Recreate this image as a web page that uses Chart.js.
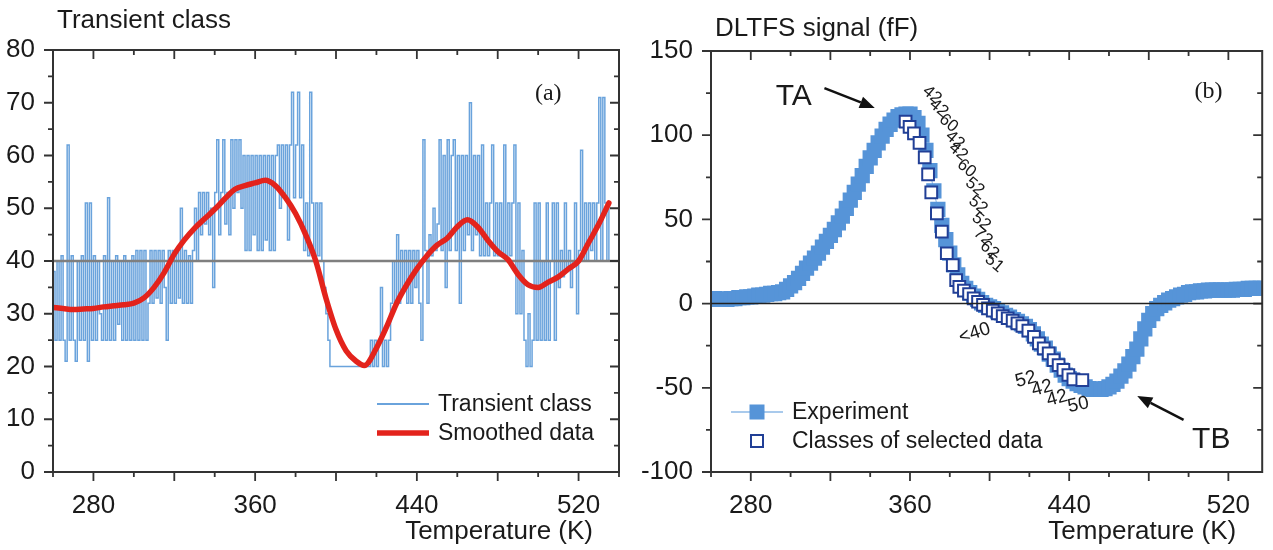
<!DOCTYPE html>
<html>
<head>
<meta charset="utf-8">
<script src="https://cdn.jsdelivr.net/npm/chart.js@4.4.1/dist/chart.umd.min.js"></script>
<style>
  body { margin: 0; background: #fff; }
  #wrap { position: relative; width: 1273px; height: 550px; }
  canvas { position: absolute; top: 0; }
</style>
</head>
<body>
<div id="wrap">
  <canvas id="panelA" width="636" height="550" style="left:0"></canvas>
  <canvas id="panelB" width="637" height="550" style="left:636px"></canvas>
</div>
<script>
const FONT = '"Liberation Sans", Arial, sans-serif';
const SERIF = '"Liberation Serif", "Times New Roman", serif';

// ---------- panel (a): transient class vs temperature ----------
const transientStartK = 260; // one reading per kelvin
const transientClass = [
  38, 25, 40, 25, 41, 25, 21, 62, 25, 41,   // 260
  25, 21, 40, 25, 41, 25, 51, 21, 51, 25,   // 270
  41, 25, 40, 30, 25, 41, 25, 52, 25, 40,   // 280
  25, 41, 28, 40, 25, 41, 25, 40, 25, 41,   // 290
  25, 42, 25, 42, 25, 42, 25, 32, 42, 32,   // 300
  42, 33, 42, 32, 42, 35, 25, 42, 32, 42,   // 310
  32, 42, 33, 50, 32, 42, 32, 41, 32, 42,   // 320
  50, 40, 53, 45, 53, 47, 53, 45, 50, 35,   // 330
  53, 63, 45, 53, 63, 47, 53, 45, 63, 50,   // 340
  63, 53, 63, 50, 60, 42, 60, 42, 60, 45,   // 350
  60, 42, 60, 42, 60, 44, 60, 42, 60, 42,   // 360
  60, 62, 50, 62, 52, 62, 44, 62, 72, 52,   // 370
  62, 72, 52, 62, 42, 51, 41, 72, 51, 41,   // 380
  51, 41, 51, 40, 35, 30, 25, 20, 20, 20,   // 390
  20, 20, 20, 20, 20, 20, 20, 20, 20, 20,   // 400
  20, 20, 20, 20, 20, 20, 20, 25, 20, 25,   // 410
  20, 25, 35, 20, 25, 20, 25, 32, 40, 32,   // 420
  45, 32, 42, 35, 42, 32, 42, 32, 42, 35,   // 430
  42, 32, 25, 63, 42, 32, 45, 41, 50, 42,   // 440
  47, 63, 42, 60, 35, 63, 42, 60, 63, 42,   // 450
  60, 32, 60, 42, 60, 45, 70, 42, 60, 45,   // 460
  60, 41, 62, 41, 51, 41, 51, 62, 41, 51,   // 470
  41, 51, 41, 62, 41, 51, 41, 51, 62, 30,   // 480
  51, 30, 42, 25, 20, 30, 20, 25, 51, 25,   // 490
  51, 25, 40, 25, 51, 25, 40, 51, 25, 51,   // 500
  35, 42, 37, 51, 38, 42, 35, 40, 51, 30,   // 510
  42, 61, 40, 51, 40, 51, 42, 51, 40, 51,   // 520
  71, 40, 71, 51, 40, 51                    // 530
];
const smoothTemps = [260, 265, 270, 275, 280, 285, 290, 295, 300, 305, 310, 315, 320, 325,
  330, 335, 340, 345, 350, 355, 360, 365, 370, 375, 380, 385, 390, 395, 400, 405, 410, 414,
  420, 425, 430, 435, 440, 445, 450, 455, 460, 465, 470, 475, 480, 485, 490, 495, 500, 505,
  510, 515, 520, 525, 530, 535];
const smoothValues = [31.2, 31.0, 30.8, 30.9, 31.0, 31.3, 31.5, 31.7, 32.0, 33.0, 35.0, 37.8, 41.3, 44.0,
  46.2, 48.0, 49.8, 51.8, 53.6, 54.3, 54.8, 55.3, 54.3, 52.0, 49.0, 45.0, 40.0, 33.0, 27.0, 23.0, 21.0, 20.2,
  23.5, 27.5, 32.0, 35.5, 38.5, 41.0, 43.0, 44.3, 46.5, 47.8, 46.5, 44.0, 41.8, 40.3, 37.5, 35.5, 35.0, 36.0,
  37.0, 38.5, 40.0, 43.5, 47.0, 51.0];
const classThreshold = 40;

// ---------- panel (b): DLTFS signal ----------
const experimentStartK = 260; // one reading every 2 K
const experimentSignal = [
  3, 3, 2.5, 2.5, 2.5, 3, 3, 3.5, 3.5, 4,            // 260-278
  4, 4.5, 5, 5, 5.5, 6, 6, 6.5, 7, 8.5,              // 280-298
  10.5, 12.5, 15, 18, 21, 24, 27, 30, 33.5, 37,      // 300-318
  40.5, 44, 48, 52, 56.5, 61.5, 66, 71, 76, 81.5,    // 320-338
  86.5, 91, 95.5, 99.5, 103.5, 106.5, 109, 111, 112, 112.5, // 340-358
  112.5, 110.5, 107, 100, 91, 79, 67, 56, 46.5, 38,  // 360-378
  30, 23, 17, 12, 9, 6.5, 4.5, 2.5, 0.5, -1,         // 380-398
  -2, -3, -4.5, -5.5, -7, -8, -9.5, -10.5, -12, -13.5,     // 400-418
  -15.5, -18, -21, -24, -26.5, -30, -33, -36.5, -39.5, -42.5, // 420-438
  -44.5, -46, -47.5, -48.5, -49.5, -50.5, -51, -51, -51, -50.5, // 440-458
  -49.5, -48, -46, -43, -40, -36, -31.5, -27, -21, -15,  // 460-478
  -10, -6, -3, -1, 0.5, 2, 3, 4, 5, 5.5,             // 480-498
  6.5, 7, 7, 7.5, 7.5, 8, 8, 8, 8, 8,                // 500-518
  8, 8, 8.5, 8.5, 8.5, 9, 9, 9, 9, 9                 // 520-538
];
const selectedTemps = [357.8, 359.8, 362.0, 364.8, 367.4, 369.1, 370.7, 373.5, 376.0, 378.5, 381.5,
  383.2, 384.8, 387.1, 389.7, 392.0, 394.2, 396.7, 399.2, 401.6, 404.1, 406.6, 409.1, 411.6, 414.0,
  416.5, 419.5, 422.3, 424.8, 427.2, 429.7, 432.2, 434.7, 437.1, 439.6, 442.1, 446.6];
const selectedSignal = [108.0, 105.0, 101.1, 95.5, 86.9, 76.8, 66.1, 53.6, 42.7, 29.9, 22.9,
  14.0, 10.0, 7.7, 5.7, 3.1, 1.1, -0.8, -2.8, -4.2, -5.8, -7.4, -8.7, -10.1, -11.7,
  -13.3, -16.1, -19.7, -23.6, -26.6, -29.5, -33.5, -36.5, -39.4, -42.4, -45.0, -45.4];
const upperClassLabels = ['42', '42', '60', '42', '42', '60', '52', '52', '52', '72', '62', '51'];
const lowerClassLabels = ['<40', '52', '42', '42', '50'];

const xTickLabels = [280, 360, 440, 520];

// ---------- drawing helpers ----------
function drawArrow(ctx, x1, y1, x2, y2) {
  const a = Math.atan2(y2 - y1, x2 - x1), L = 15, W = 6;
  ctx.save();
  ctx.strokeStyle = '#111'; ctx.fillStyle = '#111'; ctx.lineWidth = 2.5;
  ctx.beginPath(); ctx.moveTo(x1, y1);
  ctx.lineTo(x2 - L * Math.cos(a), y2 - L * Math.sin(a)); ctx.stroke();
  ctx.beginPath(); ctx.moveTo(x2, y2);
  ctx.lineTo(x2 - L * Math.cos(a) + W * Math.sin(a), y2 - L * Math.sin(a) - W * Math.cos(a));
  ctx.lineTo(x2 - L * Math.cos(a) - W * Math.sin(a), y2 - L * Math.sin(a) + W * Math.cos(a));
  ctx.closePath(); ctx.fill();
  ctx.restore();
}

function drawRefLine(chart, ref) {
  const { ctx, chartArea: ca, scales } = chart;
  const y = scales.y.getPixelForValue(ref.value);
  ctx.save();
  ctx.strokeStyle = ref.color; ctx.lineWidth = ref.width;
  ctx.beginPath(); ctx.moveTo(ca.left, y); ctx.lineTo(ca.right, y); ctx.stroke();
  ctx.restore();
}

const panelDecor = {
  id: 'panelDecor',
  afterDatasetDraw(chart, args, o) {
    if (o.refLine && args.index === o.refLine.afterIndex) drawRefLine(chart, o.refLine);
  },
  afterDraw(chart, args, o) {
    const { ctx, chartArea: ca, scales } = chart;
    const sx = scales.x, sy = scales.y;
    ctx.save();
    // frame
    ctx.strokeStyle = '#333'; ctx.lineWidth = 2;
    ctx.strokeRect(ca.left, ca.top, ca.right - ca.left, ca.bottom - ca.top);
    // tick marks: outward on bottom/left, inward on top/right
    ctx.lineWidth = 1.8;
    ctx.beginPath();
    for (let v = Math.ceil(sx.min / o.xMinor) * o.xMinor; v <= sx.max; v += o.xMinor) {
      const px = sx.getPixelForValue(v), len = v % o.xMajor === 0 ? 9 : 5;
      ctx.moveTo(px, ca.bottom); ctx.lineTo(px, ca.bottom + len);
      ctx.moveTo(px, ca.top); ctx.lineTo(px, ca.top + len);
    }
    for (let v = sy.min; v <= sy.max; v += o.yMinor) {
      const py = sy.getPixelForValue(v), len = (v - sy.min) % o.yMajor === 0 ? 9 : 5;
      ctx.moveTo(ca.left, py); ctx.lineTo(ca.left - len, py);
      ctx.moveTo(ca.right, py); ctx.lineTo(ca.right - len, py);
    }
    ctx.stroke();
    // titles
    ctx.fillStyle = '#1a1a1a';
    ctx.font = '26px ' + FONT; ctx.textBaseline = 'alphabetic';
    ctx.textAlign = 'left';
    ctx.fillText(o.title, ca.left + 4, o.titleY);
    ctx.textAlign = 'right';
    ctx.fillText('Temperature (K)', ca.right - 26, 539);
    ctx.font = '24px ' + SERIF; ctx.textAlign = 'center'; ctx.textBaseline = 'middle';
    ctx.fillText(o.letter.text, sx.getPixelForValue(o.letter.t), sy.getPixelForValue(o.letter.v));
    // legend
    ctx.font = '23px ' + FONT; ctx.textAlign = 'left';
    o.legend.forEach(item => {
      const y = ca.bottom - item.dy;
      const x0 = ca.left + o.legendX;
      if (item.line) {
        ctx.strokeStyle = item.line; ctx.lineWidth = item.lineWidth;
        ctx.beginPath(); ctx.moveTo(x0, y); ctx.lineTo(x0 + 52, y); ctx.stroke();
      }
      if (item.box) {
        const s = item.box.size;
        ctx.fillStyle = item.box.fill; ctx.fillRect(x0 + 26 - s / 2, y - s / 2, s, s);
        if (item.box.stroke) {
          ctx.strokeStyle = item.box.stroke; ctx.lineWidth = 2;
          ctx.strokeRect(x0 + 26 - s / 2, y - s / 2, s, s);
        }
      }
      ctx.fillStyle = '#1a1a1a';
      ctx.fillText(item.text, x0 + 61, y + 1);
    });
    // annotations in data units
    (o.notes || []).forEach(n => {
      ctx.save();
      ctx.translate(sx.getPixelForValue(n.t), sy.getPixelForValue(n.v));
      ctx.rotate((n.rot || 0) * Math.PI / 180);
      ctx.font = n.size + 'px ' + FONT; ctx.fillStyle = '#1a1a1a';
      ctx.textAlign = 'center'; ctx.textBaseline = 'middle';
      ctx.fillText(n.text, 0, 0);
      ctx.restore();
    });
    (o.arrows || []).forEach(a => drawArrow(ctx,
      sx.getPixelForValue(a[0]), sy.getPixelForValue(a[1]),
      sx.getPixelForValue(a[2]), sy.getPixelForValue(a[3])));
    ctx.restore();
    if (o.refLine && o.refLine.afterIndex == null) drawRefLine(chart, o.refLine);
  }
};

function axisOptions(min, max, yMin, yMax, yStep, yWidth, xHeight) {
  const tickFont = { family: FONT, size: 26 };
  return {
    x: {
      type: 'linear', min: min, max: max,
      afterBuildTicks: s => { s.ticks = xTickLabels.map(v => ({ value: v })); },
      afterFit: s => { s.height = xHeight; },
      grid: { display: false }, border: { display: false },
      ticks: { font: tickFont, color: '#1a1a1a', padding: 10, maxRotation: 0, autoSkip: false }
    },
    y: {
      min: yMin, max: yMax,
      afterFit: s => { s.width = yWidth; },
      grid: { display: false }, border: { display: false },
      ticks: { stepSize: yStep, font: tickFont, color: '#1a1a1a', padding: 10 }
    }
  };
}

// ---------- panel (a) ----------
new Chart(document.getElementById('panelA'), {
  type: 'line',
  data: {
    datasets: [
      {
        label: 'Smoothed data',
        data: smoothTemps.map((t, i) => ({ x: t, y: smoothValues[i] })),
        borderColor: '#e3231c', borderWidth: 5.5, pointRadius: 0,
        cubicInterpolationMode: 'monotone', borderCapStyle: 'round'
      },
      {
        label: 'Transient class',
        data: transientClass.map((v, i) => ({ x: transientStartK + i, y: v })),
        borderColor: '#6aa3dc', borderWidth: 1.5, pointRadius: 0, stepped: true
      }
    ]
  },
  options: {
    responsive: false, animation: false,
    layout: { padding: { left: 0, top: 50, right: 17, bottom: 0 } },
    scales: axisOptions(260, 540, 0, 80, 10, 53, 78),
    plugins: {
      legend: { display: false }, tooltip: { enabled: false },
      panelDecor: {
        title: 'Transient class', titleY: 28,
        xMinor: 20, xMajor: 40, yMinor: 5, yMajor: 10,
        refLine: { value: classThreshold, color: '#7f7f7f', width: 2.5, afterIndex: 1 },
        letter: { text: '(a)', t: 505, v: 71.7 },
        legendX: 324,
        legend: [
          { text: 'Transient class', line: '#6aa3dc', lineWidth: 2, dy: 68 },
          { text: 'Smoothed data', line: '#e3231c', lineWidth: 5.5, dy: 39 }
        ]
      }
    }
  },
  plugins: [panelDecor]
});

// ---------- panel (b) ----------
const upperLabelSpots = [[371.1, 123.9], [374.4, 116.0], [379.3, 107.1], [382.6, 97.1], [384.3, 90.2],
  [388.4, 80.3], [392.5, 69.4], [394.2, 58.6], [395.8, 48.6], [396.7, 39.7], [400.0, 31.8], [402.4, 23.9]];
const lowerLabelSpots = [[392.5, -17.6, -18], [418.2, -45.0, -15], [426.4, -50.3, -15], [433.9, -56.2, -15], [444.6, -60.2, -12]];
const notesB = [
  { text: 'TA', t: 301.6, v: 122.7, size: 30 },
  { text: 'TB', t: 511.4, v: -81, size: 30 }
]
  .concat(upperClassLabels.map((s, i) => ({ text: s, t: upperLabelSpots[i][0], v: upperLabelSpots[i][1], size: 17, rot: 40 })))
  .concat(lowerClassLabels.map((s, i) => ({ text: s, t: lowerLabelSpots[i][0], v: lowerLabelSpots[i][1], size: 19, rot: lowerLabelSpots[i][2] })));

new Chart(document.getElementById('panelB'), {
  type: 'line',
  data: {
    datasets: [
      {
        label: 'Classes of selected data',
        data: selectedTemps.map((t, i) => ({ x: t, y: selectedSignal[i] })),
        showLine: false, pointStyle: 'rect', pointRadius: 8.3,
        pointBackgroundColor: '#ffffff', pointBorderColor: '#213f96', pointBorderWidth: 2
      },
      {
        label: 'Experiment',
        data: experimentSignal.map((v, i) => ({ x: experimentStartK + 2 * i, y: v })),
        borderColor: '#8cb8e6', borderWidth: 1, pointStyle: 'rect', pointRadius: 10.8,
        pointBackgroundColor: '#5694d8', pointBorderWidth: 0
      }
    ]
  },
  options: {
    responsive: false, animation: false,
    layout: { padding: { left: 0, top: 51, right: 3, bottom: 0 } },
    scales: axisOptions(260, 537, -100, 150, 50, 75, 78),
    plugins: {
      legend: { display: false }, tooltip: { enabled: false },
      panelDecor: {
        title: 'DLTFS signal (fF)', titleY: 36,
        xMinor: 20, xMajor: 40, yMinor: 25, yMajor: 50,
        refLine: { value: 0, color: '#222', width: 1.5 },
        letter: { text: '(b)', t: 510, v: 126 },
        legendX: 20,
        legend: [
          { text: 'Experiment', line: '#8cb8e6', lineWidth: 1.5, box: { size: 15, fill: '#5694d8' }, dy: 60 },
          { text: 'Classes of selected data', box: { size: 12, fill: '#ffffff', stroke: '#213f96' }, dy: 31 }
        ],
        notes: notesB,
        arrows: [[317, 128, 342.3, 116.2], [497.5, -69.1, 474.2, -54.9]]
      }
    }
  },
  plugins: [panelDecor]
});
</script>
</body>
</html>
